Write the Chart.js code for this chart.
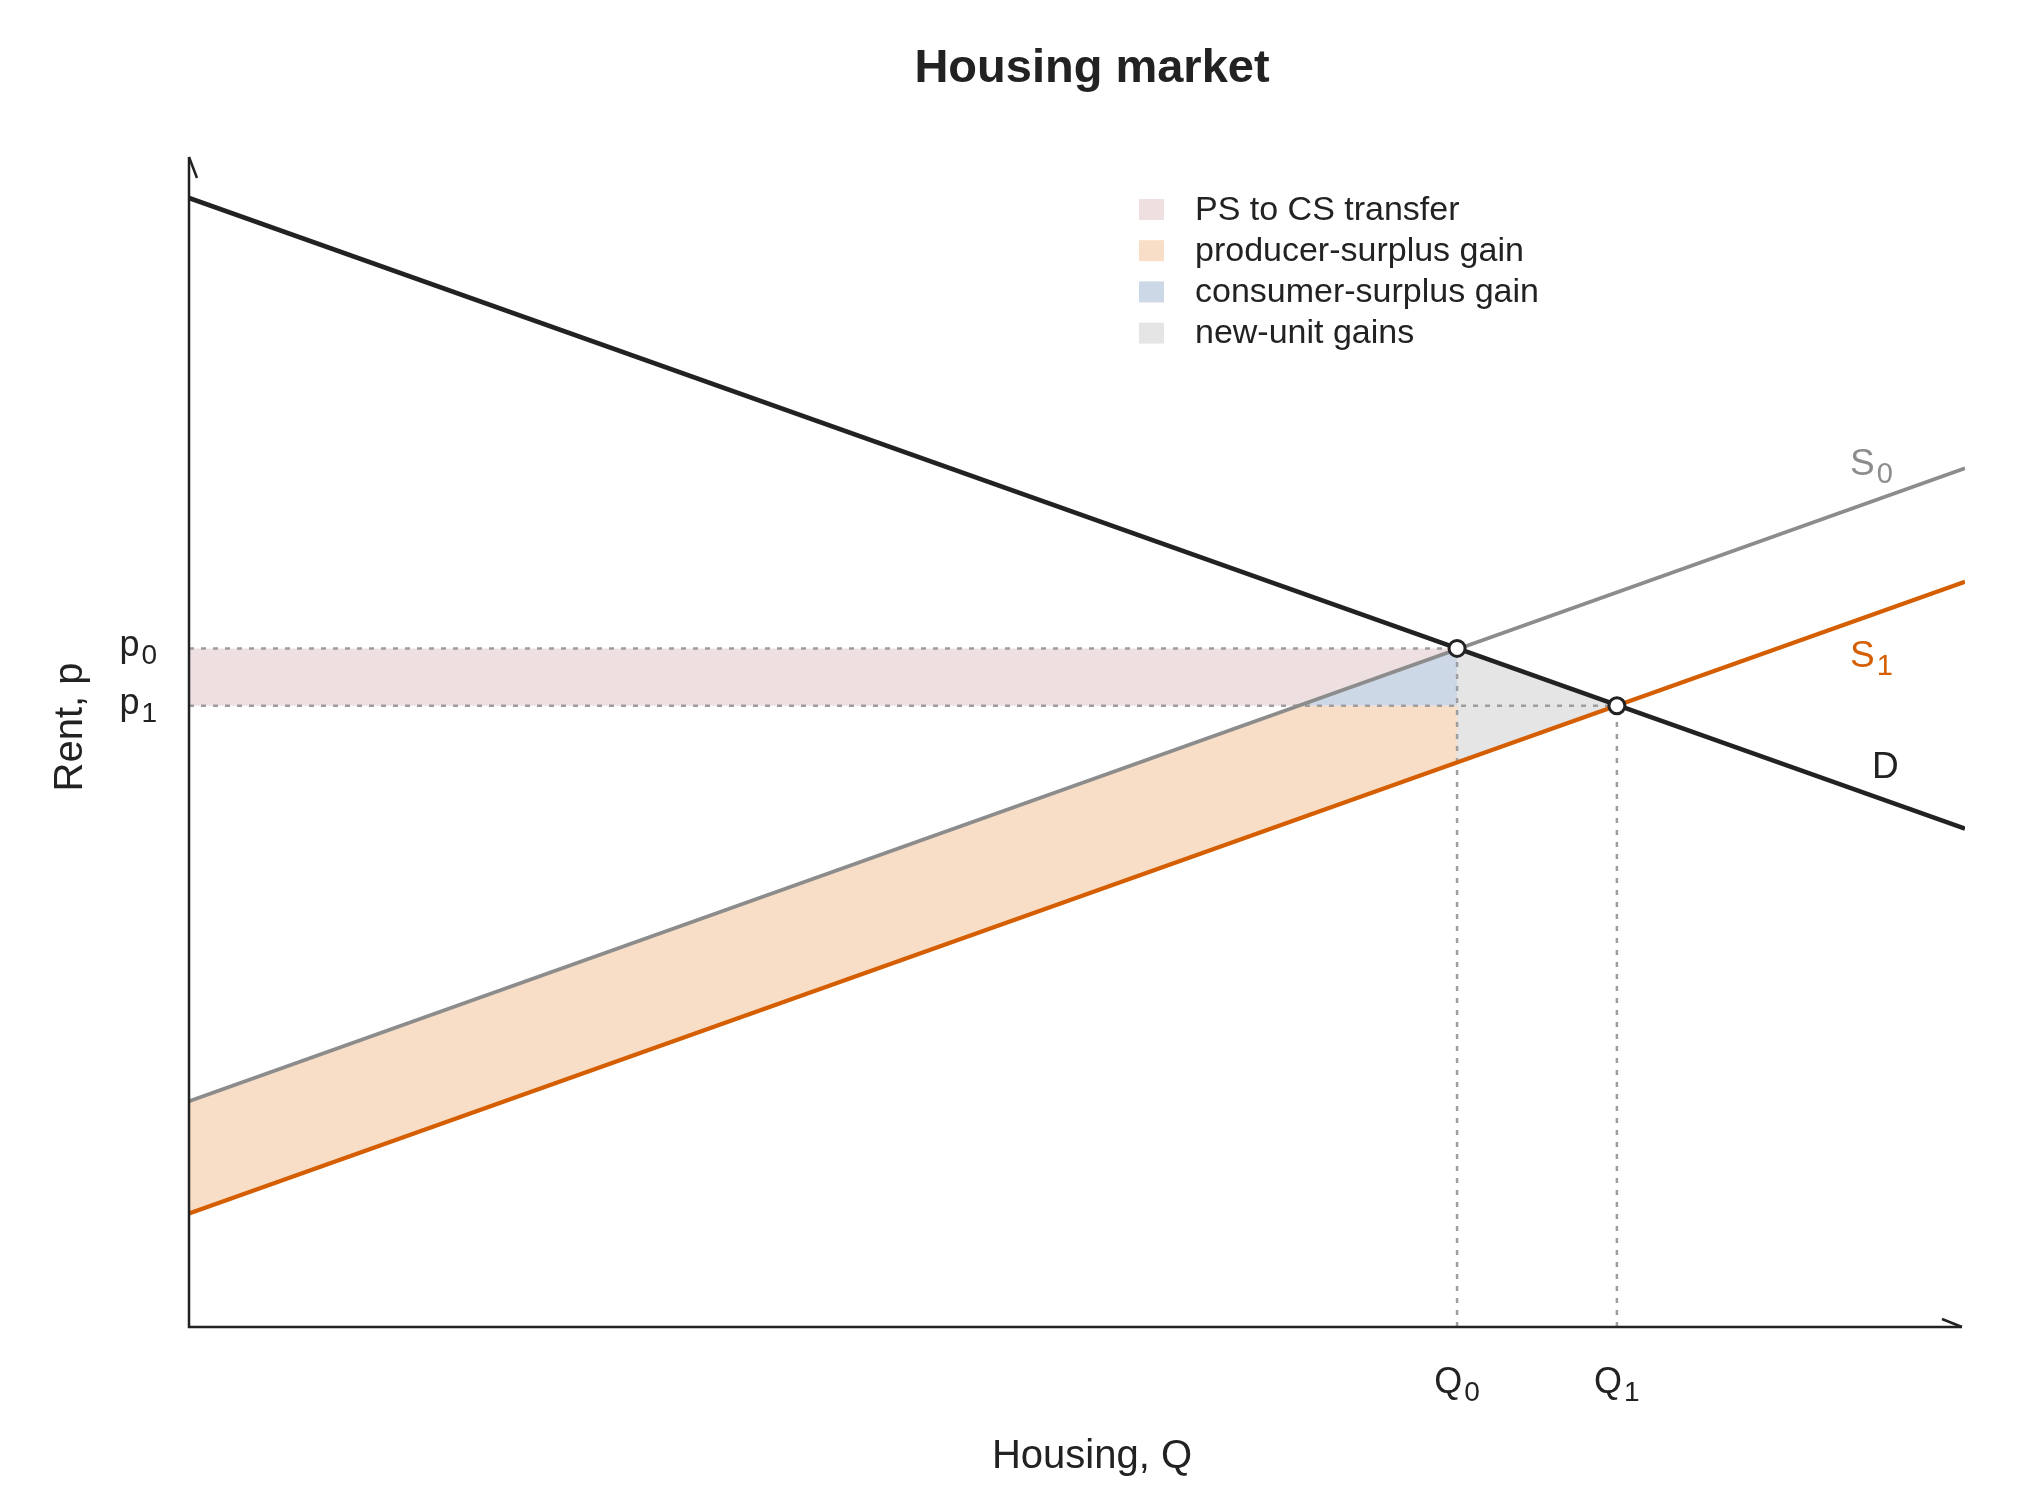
<!DOCTYPE html>
<html>
<head>
<meta charset="utf-8">
<title>Housing market</title>
<script src="https://cdn.jsdelivr.net/npm/chart.js@4.4.1/dist/chart.umd.min.js"></script>
<style>
  html, body { margin: 0; padding: 0; background: #fff; }
  #wrap { width: 2040px; height: 1500px; }
</style>
</head>
<body>
<div id="wrap"><canvas id="market" width="2040" height="1500"></canvas></div>
<script>
// Curves (Q and p both on a 0..100 scale)
const demand = [[0, 96.5], [100, 42.6]];
const supply0 = [[0, 19.3], [100, 73.4]];
const supply1 = [[0, 9.7], [100, 63.7]];

// Equilibria: before (S0) and after (S1) the supply shift
const eqQ = [71.4, 80.4];
const eqP = [58.0, 53.1];

// Shaded areas (polygon corners)
const transferArea = [[0, 53.1], [0, 58.0], [71.4, 58.0], [62.6, 53.1]];
const producerGain = [[0, 9.7], [0, 19.3], [62.6, 53.1], [71.4, 53.1], [71.4, 48.3]];
const consumerGain = [[62.6, 53.1], [71.4, 58.0], [71.4, 53.1]];
const newUnitGain = [[71.4, 58.0], [80.4, 53.1], [71.4, 48.3]];

// Legend and labels
const legendLabels = ["PS to CS transfer", "producer-surplus gain", "consumer-surplus gain", "new-unit gains"];
const legendColors = ["#eedfe0", "#f8dec6", "#cdd8e6", "#e5e5e5"];
const priceTicks = [["p", "0"], ["p", "1"]];
const quantityTicks = [["Q", "0"], ["Q", "1"]];

const FONT = '"Liberation Sans", Arial, Helvetica, sans-serif';
const INK = "#222222";

const toXY = (pts) => pts.map(([x, y]) => ({ x, y }));

function areaSet(pts, color) {
  return {
    data: toXY(pts),
    backgroundColor: color,
    borderWidth: 0,
    pointRadius: 0,
    fill: "shape",
    order: 10,
  };
}

function guideSet(pts) {
  return {
    data: toXY(pts),
    borderColor: "#9e9e9e",
    borderWidth: 2.5,
    borderDash: [5, 7],
    pointRadius: 0,
    fill: false,
    order: 5,
  };
}

function curveSet(pts, color, width, order) {
  return {
    data: toXY(pts),
    borderColor: color,
    borderWidth: width,
    pointRadius: 0,
    fill: false,
    order: order,
  };
}

// draw "p" + subscript "0" style text
function drawSub(ctx, main, sub, x, y, align, color, size) {
  const subSize = Math.round(size * 0.78);
  ctx.save();
  ctx.fillStyle = color;
  ctx.textBaseline = "alphabetic";
  ctx.textAlign = "left";
  ctx.font = `${size}px ${FONT}`;
  const w1 = ctx.measureText(main).width;
  ctx.font = `${subSize}px ${FONT}`;
  const w2 = ctx.measureText(sub).width;
  const total = w1 + 2 + w2;
  let left = x;
  if (align === "center") left = x - total / 2;
  if (align === "right") left = x - total;
  ctx.font = `${size}px ${FONT}`;
  ctx.fillText(main, left, y);
  ctx.font = `${subSize}px ${FONT}`;
  ctx.fillText(sub, left + w1 + 2, y + 8);
  ctx.restore();
}

const decorations = {
  id: "decorations",
  afterDatasetsDraw(chart) {
    const { ctx, chartArea: a, scales } = chart;
    const xs = scales.x, ys = scales.y;

    // axes with open arrow tips
    ctx.save();
    ctx.strokeStyle = INK;
    ctx.lineWidth = 2.5;
    ctx.beginPath();
    ctx.moveTo(a.left, a.top);
    ctx.lineTo(a.left, a.bottom);
    ctx.lineTo(a.right - 3, a.bottom);
    ctx.stroke();
    ctx.beginPath();
    ctx.moveTo(a.left, a.top);
    ctx.lineTo(a.left + 8, a.top + 21);
    ctx.moveTo(a.right - 3, a.bottom);
    ctx.lineTo(a.right - 23, a.bottom - 8);
    ctx.stroke();
    ctx.restore();

    // title and axis titles
    ctx.save();
    ctx.fillStyle = INK;
    ctx.textAlign = "center";
    ctx.textBaseline = "alphabetic";
    ctx.font = `bold 47px ${FONT}`;
    ctx.fillText("Housing market", 1092, 82);
    ctx.font = `40px ${FONT}`;
    ctx.fillText("Housing, Q", 1092, 1468);
    ctx.translate(82, 727);
    ctx.rotate(-Math.PI / 2);
    ctx.fillText("Rent, p", 0, 0);
    ctx.restore();

    // tick labels at equilibrium prices and quantities
    eqP.forEach((p, i) => {
      drawSub(ctx, priceTicks[i][0], priceTicks[i][1], a.left - 32, ys.getPixelForValue(p) + 8, "right", INK, 36);
    });
    eqQ.forEach((q, i) => {
      drawSub(ctx, quantityTicks[i][0], quantityTicks[i][1], xs.getPixelForValue(q), a.bottom + 66, "center", INK, 36);
    });

    // curve labels
    drawSub(ctx, "S", "0", 1850, 475, "left", "#8c8c8c", 37);
    drawSub(ctx, "S", "1", 1850, 667, "left", "#d55e00", 37);
    ctx.save();
    ctx.fillStyle = INK;
    ctx.font = `37px ${FONT}`;
    ctx.textBaseline = "alphabetic";
    ctx.fillText("D", 1872, 778);
    ctx.restore();

    // legend
    ctx.save();
    ctx.font = `34px ${FONT}`;
    ctx.textBaseline = "middle";
    legendLabels.forEach((label, i) => {
      const cy = 209.5 + i * 41.2;
      ctx.fillStyle = legendColors[i];
      ctx.fillRect(1139, cy - 10.5, 25, 21);
      ctx.fillStyle = INK;
      ctx.fillText(label, 1195, cy + 1);
    });
    ctx.restore();
  },
};

new Chart(document.getElementById("market"), {
  type: "line",
  data: {
    datasets: [
      areaSet(transferArea, legendColors[0]),
      areaSet(producerGain, legendColors[1]),
      areaSet(consumerGain, legendColors[2]),
      areaSet(newUnitGain, legendColors[3]),
      guideSet([[0, eqP[0]], [eqQ[0], eqP[0]]]),
      guideSet([[0, eqP[1]], [eqQ[1], eqP[1]]]),
      guideSet([[eqQ[0], 0], [eqQ[0], eqP[0]]]),
      guideSet([[eqQ[1], 0], [eqQ[1], eqP[1]]]),
      curveSet(supply0, "#8c8c8c", 3.8, 2.2),
      curveSet(supply1, "#d55e00", 4.2, 2.1),
      curveSet(demand, INK, 4.6, 2.0),
      {
        data: eqQ.map((q, i) => ({ x: q, y: eqP[i] })),
        showLine: false,
        pointRadius: 8,
        pointBackgroundColor: "#ffffff",
        pointBorderColor: INK,
        pointBorderWidth: 3,
        order: 0,
      },
    ],
  },
  options: {
    responsive: false,
    devicePixelRatio: 1,
    animation: false,
    layout: { padding: { left: 189, right: 75, top: 157, bottom: 173 } },
    scales: {
      x: { type: "linear", min: 0, max: 100, display: false },
      y: { type: "linear", min: 0, max: 100, display: false },
    },
    plugins: {
      legend: { display: false },
      tooltip: { enabled: false },
      title: { display: false },
    },
  },
  plugins: [decorations],
});
</script>
</body>
</html>
